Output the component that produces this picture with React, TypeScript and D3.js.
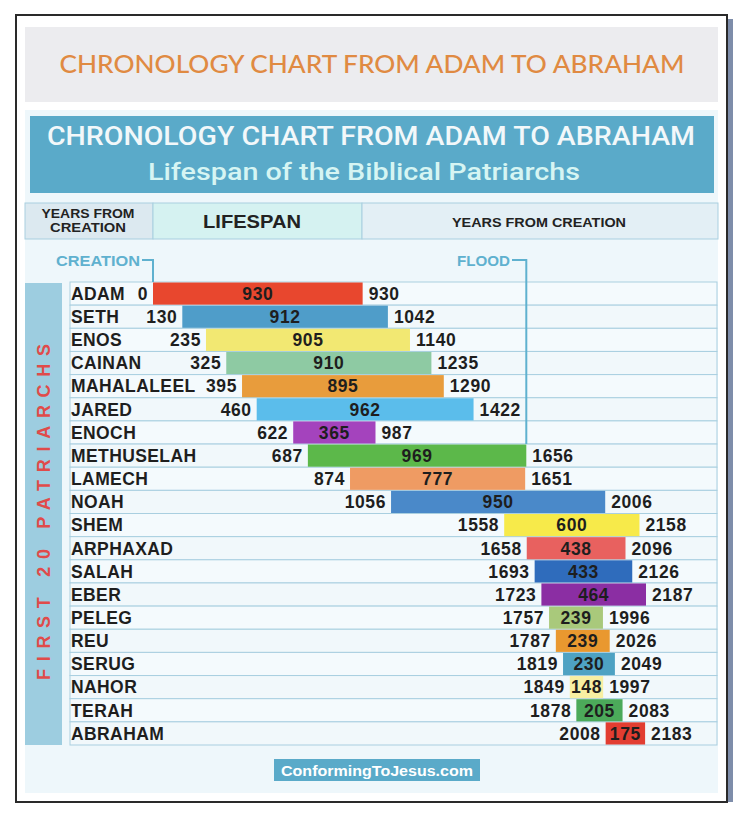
import React from "react";
import * as d3 from "d3";

const names = ["ADAM","SETH","ENOS","CAINAN","MAHALALEEL","JARED","ENOCH","METHUSELAH","LAMECH","NOAH","SHEM","ARPHAXAD","SALAH","EBER","PELEG","REU","SERUG","NAHOR","TERAH","ABRAHAM"];
const births = [0,130,235,325,395,460,622,687,874,1056,1558,1658,1693,1723,1757,1787,1819,1849,1878,2008];
const lifespans = [930,912,905,910,895,962,365,969,777,950,600,438,433,464,239,239,230,148,205,175];
const deaths = [930,1042,1140,1235,1290,1422,987,1656,1651,2006,2158,2096,2126,2187,1996,2026,2049,1997,2083,2183];
const barColors = ["#e8472e","#4f9dc9","#f2e872","#8ecaa3","#e89c3c","#5bbdeb","#a443bd","#5cb84a","#ef9b63","#4a89c9","#f7ea4a","#e8615f","#2f6cbc","#8b2ea3","#a9c97b","#e9982f","#4ea2c3","#f7efa2","#4caa5a","#e23d31"];
const floodYear = 1656;
const creationYear = 0;

const W = 750, H = 820;
const FONT = "'Liberation Sans', Arial, sans-serif";

export default function App() {
  const x = d3.scaleLinear().domain([0, 2187]).range([153, 646]);
  const y = d3.scaleBand<string>().domain(names).range([282, 745]).paddingInner(0);
  const bh = y.bandwidth();
  const blue = "#5aaac9";
  const lineBlue = "#5fb1cf";
  const floodRow = names[births.findIndex((b, i) => deaths[i] === floodYear)];

  return (
    <svg width={W} height={H} style={{ position: "absolute", left: 0, top: 0, display: "block" }} fontFamily={FONT}>
      <rect x={0} y={0} width={W} height={H} fill="#ffffff" />
      {/* frame */}
      <rect x={727} y={19} width={6} height={783} fill="#7e8daa" />
      <rect x={16} y={15} width={711} height={787} fill="#ffffff" stroke="#2a2a2a" strokeWidth={2} />
      {/* top gray banner */}
      <rect x={25} y={27} width={693} height={75} fill="#ececef" />
      <text x={372} y={73} textAnchor="middle" fill="#e08a42" fontSize={25} fontWeight={500} fontFamily="Lato, 'Open Sans', sans-serif" textLength={625} lengthAdjust="spacingAndGlyphs">CHRONOLOGY CHART FROM ADAM TO ABRAHAM</text>
      {/* panel */}
      <rect x={25} y={110} width={693} height={683} fill="#eef7fb" />
      {/* blue banner */}
      <rect x={30} y={116} width={684} height={77} fill={blue} />
      <text x={371} y={145} textAnchor="middle" fill="#f2f8fa" fontSize={26} fontWeight={500} fontFamily="Roboto, 'Liberation Sans', sans-serif" textLength={648} lengthAdjust="spacingAndGlyphs">CHRONOLOGY CHART FROM ADAM TO ABRAHAM</text>
      <text x={364} y={180} textAnchor="middle" fill="#d6f5f3" fontSize={23} fontWeight={500} fontFamily="Roboto, 'Liberation Sans', sans-serif" textLength={432} lengthAdjust="spacingAndGlyphs">Lifespan of the Biblical Patriarchs</text>
      {/* header row */}
      <rect x={25} y={203} width={128} height={36} fill="#dce9f0" stroke="#a9cfe0" />
      <rect x={153} y={203} width={209} height={36} fill="#d5f2f1" stroke="#a9cfe0" />
      <rect x={362} y={203} width={356} height={36} fill="#e3eff5" stroke="#a9cfe0" />
      <text x={88} y={218} textAnchor="middle" fontSize={12.5} fontWeight="bold" fill="#222" textLength={93} lengthAdjust="spacingAndGlyphs">YEARS FROM</text>
      <text x={88} y={232} textAnchor="middle" fontSize={12.5} fontWeight="bold" fill="#222" textLength={76} lengthAdjust="spacingAndGlyphs">CREATION</text>
      <text x={252} y={228} textAnchor="middle" fontSize={18} fontWeight="bold" fill="#222" textLength={98} lengthAdjust="spacingAndGlyphs">LIFESPAN</text>
      <text x={539} y={227} textAnchor="middle" fontSize={13.5} fontWeight="bold" fill="#222" textLength={174} lengthAdjust="spacingAndGlyphs">YEARS FROM CREATION</text>
      {/* left band */}
      <rect x={25} y={283} width={37} height={462} fill="#9dcde0" />
      <text transform={`translate(50,${512}) rotate(-90)`} textAnchor="middle" fontSize={18} fontWeight="bold" fill="#e04b4a" textLength={336} lengthAdjust="spacing">FIRST 20 PATRIARCHS</text>
      {/* rows */}
      {names.map((n, i) => (
        <g key={n}>
          <rect x={70} y={y(n)!} width={647} height={bh} fill={i % 2 === 0 ? "#f4fafd" : "#f1f8fb"} stroke="#a9cfe0" strokeWidth={1} />
        </g>
      ))}
      {/* markers */}
      <text x={56} y={266} fontSize={14.5} fontWeight="bold" fill={lineBlue} textLength={84} lengthAdjust="spacingAndGlyphs">CREATION</text>
      <path d={`M142,260 H${x(creationYear)} V${y(names[0])!}`} fill="none" stroke={lineBlue} strokeWidth={2} />
      <text x={457} y={266} fontSize={14.5} fontWeight="bold" fill={lineBlue} textLength={53} lengthAdjust="spacingAndGlyphs">FLOOD</text>
      <path d={`M512,260 H${x(floodYear)} V${y(floodRow)!}`} fill="none" stroke={lineBlue} strokeWidth={2} />
      {/* bars */}
      {names.map((n, i) => {
        const y0 = y(n)!;
        const x0 = x(births[i]);
        const x1 = x(deaths[i]);
        const cy = y0 + bh / 2 + 6.3;
        return (
          <g key={n}>
            <rect x={x0} y={y0 + 0.5} width={x1 - x0} height={bh - 1} fill={barColors[i]} />
            <text x={71} y={cy} fontSize={17.5} fontWeight="bold" fill="#1e1e1e" letterSpacing={0.4}>{n}</text>
            <text x={(x0 + x1) / 2} y={cy} textAnchor="middle" fontSize={17.5} fontWeight="bold" fill="#1e1e1e" letterSpacing={0.6}>{lifespans[i]}</text>
            <text x={x0 - 5} y={cy} textAnchor="end" fontSize={17.5} fontWeight="bold" fill="#1e1e1e" letterSpacing={0.6}>{births[i]}</text>
            <text x={x1 + 6} y={cy} fontSize={17.5} fontWeight="bold" fill="#1e1e1e" letterSpacing={0.6}>{deaths[i]}</text>
          </g>
        );
      })}
      {/* footer */}
      <rect x={274} y={759} width={206} height={22} fill={blue} />
      <text x={377} y={775.5} textAnchor="middle" fontSize={14.5} fontWeight="bold" fill="#ffffff" textLength={192} lengthAdjust="spacingAndGlyphs">ConformingToJesus.com</text>
    </svg>
  );
}
